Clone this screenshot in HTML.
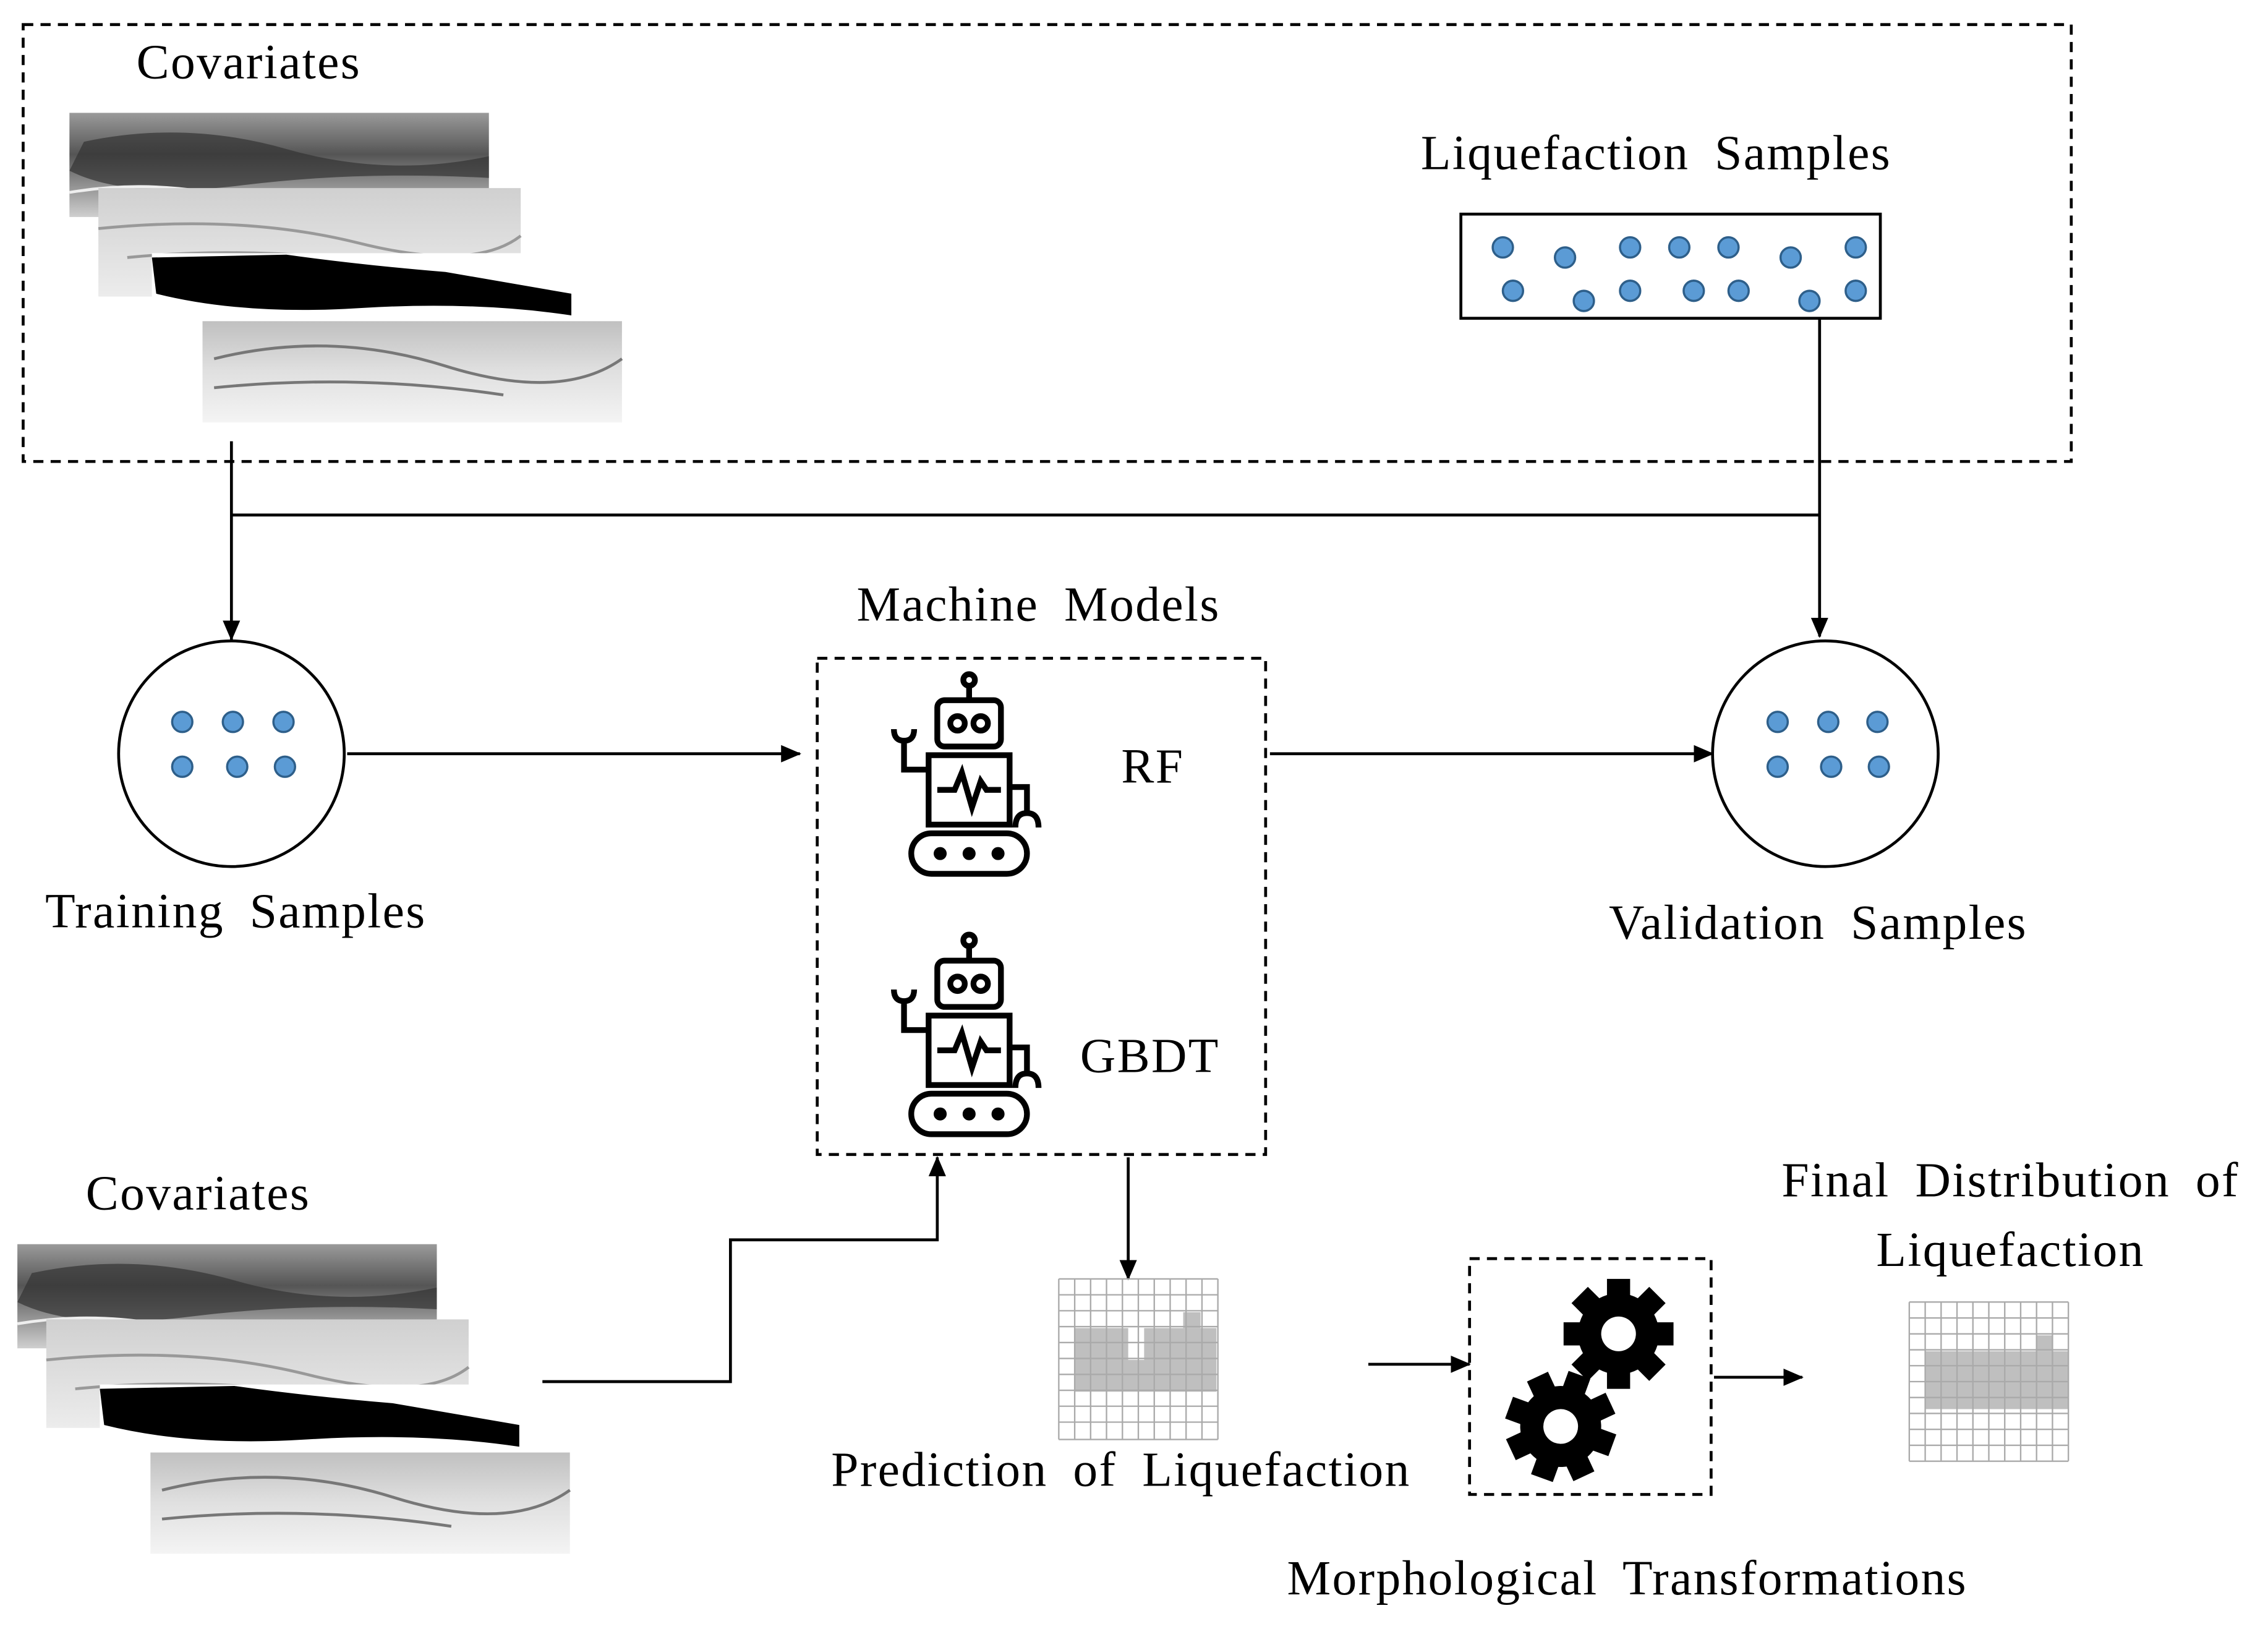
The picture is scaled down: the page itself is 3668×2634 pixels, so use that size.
<!DOCTYPE html>
<html><head><meta charset="utf-8"><style>html,body{margin:0;padding:0;background:#fff}svg{display:block}</style></head>
<body>
<svg width="3668" height="2634" viewBox="0 0 1568 1126" xmlns="http://www.w3.org/2000/svg" font-family="Liberation Serif, serif" font-size="34" letter-spacing="1" word-spacing="8">
<defs>
<marker id="a" markerWidth="14" markerHeight="14" refX="13" refY="7" orient="auto" markerUnits="userSpaceOnUse" viewBox="0 0 14 14"><path d="M0,1 L14,7 L0,13 z" fill="#000"/></marker>
<linearGradient id="g1" x1="0" y1="0" x2="0" y2="1"><stop offset="0" stop-color="#9a9a9a"/><stop offset="0.4" stop-color="#555"/><stop offset="1" stop-color="#cfcfcf"/></linearGradient>
<linearGradient id="g2" x1="0" y1="0" x2="0" y2="1"><stop offset="0" stop-color="#d0d0d0"/><stop offset="1" stop-color="#ececec"/></linearGradient>
<linearGradient id="g4" x1="0" y1="0" x2="0" y2="1"><stop offset="0" stop-color="#c0c0c0"/><stop offset="0.5" stop-color="#e0e0e0"/><stop offset="1" stop-color="#f4f4f4"/></linearGradient>
<g id="stack">
<rect x="0" y="0" width="290" height="72" fill="url(#g1)"/>
<path d="M10,20 Q80,5 150,25 T290,30 L290,45 Q200,40 120,50 T0,40z" fill="#333" opacity="0.7"/>
<path d="M0,55 Q60,45 120,60 T290,58" stroke="#eee" fill="none" stroke-width="2"/>
<rect x="20" y="52" width="292" height="75" fill="url(#g2)"/>
<path d="M20,80 Q120,70 200,90 T312,85 M40,100 Q140,90 260,110" stroke="#999" fill="none" stroke-width="2"/>
<rect x="57" y="97" width="290" height="70" fill="#fff"/>
<path d="M57,100 L150,98 Q200,105 260,110 L347,125 L347,140 Q280,130 200,135 T60,125z" fill="#000"/>
<rect x="92" y="144" width="290" height="70" fill="url(#g4)"/>
<path d="M100,170 Q180,150 260,175 T382,170 M100,190 Q200,180 300,195" stroke="#777" fill="none" stroke-width="2"/>
</g>
<g id="robot" fill="none" stroke="#000" stroke-width="4">
<circle cx="0" cy="-62" r="4"/><line x1="0" y1="-58" x2="0" y2="-48"/>
<rect x="-22" y="-48" width="44" height="32" rx="5"/>
<circle cx="-8" cy="-32" r="5"/><circle cx="8" cy="-32" r="5"/>
<rect x="-28" y="-10" width="56" height="48"/>
<path d="M-22,14 L-10,14 L-5,2 L2,26 L8,8 L12,14 L22,14"/>
<path d="M-28,0 L-45,0 L-45,-20 M-52,-28 Q-52,-20 -45,-20 Q-38,-20 -38,-28"/>
<path d="M28,12 L40,12 L40,30 M32,40 Q32,30 40,30 Q48,30 48,40"/>
<rect x="-40" y="44" width="80" height="28" rx="14"/>
<circle cx="-20" cy="58" r="2.5" fill="#000"/><circle cx="0" cy="58" r="2.5" fill="#000"/><circle cx="20" cy="58" r="2.5" fill="#000"/>
</g>
<g id="gear" fill="#000">
<circle r="28"/>
<g id="teeth"><rect x="-8" y="-38" width="16" height="16"/><rect x="-8" y="22" width="16" height="16"/><rect x="-38" y="-8" width="16" height="16"/><rect x="22" y="-8" width="16" height="16"/></g>
<use href="#teeth" transform="rotate(45)"/>
<circle r="12" fill="#fff"/>
</g>
</defs>

<rect x="16" y="17" width="1416" height="302" fill="none" stroke="#000" stroke-width="2" stroke-dasharray="7,5"/>
<text x="172" y="54" text-anchor="middle">Covariates</text>
<use href="#stack" transform="translate(48,78)"/>
<text x="1145" y="117" text-anchor="middle">Liquefaction Samples</text>
<rect x="1010" y="148" width="290" height="72" fill="#fff" stroke="#000" stroke-width="2"/>
<g fill="#5b9bd5" stroke="#2e5f8a" stroke-width="1.5">
<circle cx="1039" cy="171" r="7"/><circle cx="1082" cy="178" r="7"/><circle cx="1127" cy="171" r="7"/><circle cx="1161" cy="171" r="7"/><circle cx="1195" cy="171" r="7"/><circle cx="1238" cy="178" r="7"/><circle cx="1283" cy="171" r="7"/>
<circle cx="1046" cy="201" r="7"/><circle cx="1095" cy="208" r="7"/><circle cx="1127" cy="201" r="7"/><circle cx="1171" cy="201" r="7"/><circle cx="1202" cy="201" r="7"/><circle cx="1251" cy="208" r="7"/><circle cx="1283" cy="201" r="7"/>
</g>

<g stroke="#000" stroke-width="2" fill="none">
<line x1="160" y1="305" x2="160" y2="442" marker-end="url(#a)"/>
<line x1="160" y1="356" x2="1258" y2="356"/>
<line x1="1258" y1="220" x2="1258" y2="440" marker-end="url(#a)"/>
<circle cx="160" cy="521" r="78"/>
<circle cx="1262" cy="521" r="78"/>
<line x1="240" y1="521" x2="553" y2="521" marker-end="url(#a)"/>
<line x1="878" y1="521" x2="1184" y2="521" marker-end="url(#a)"/>
<polyline points="375,955 505,955 505,857 648,857 648,800" marker-end="url(#a)"/>
<line x1="780" y1="800" x2="780" y2="884" marker-end="url(#a)"/>
<line x1="946" y1="943" x2="1016" y2="943" marker-end="url(#a)"/>
<line x1="1185" y1="952" x2="1246" y2="952" marker-end="url(#a)"/>
</g>
<g fill="#5b9bd5" stroke="#2e5f8a" stroke-width="1.5">
<circle cx="126" cy="499" r="7"/><circle cx="161" cy="499" r="7"/><circle cx="196" cy="499" r="7"/>
<circle cx="126" cy="530" r="7"/><circle cx="164" cy="530" r="7"/><circle cx="197" cy="530" r="7"/>
<circle cx="1229" cy="499" r="7"/><circle cx="1264" cy="499" r="7"/><circle cx="1298" cy="499" r="7"/>
<circle cx="1229" cy="530" r="7"/><circle cx="1266" cy="530" r="7"/><circle cx="1299" cy="530" r="7"/>
</g>
<text x="163" y="641" text-anchor="middle">Training Samples</text>
<text x="1257" y="649" text-anchor="middle">Validation Samples</text>

<text x="718" y="429" text-anchor="middle">Machine Models</text>
<rect x="565" y="455" width="310" height="343" fill="none" stroke="#000" stroke-width="2" stroke-dasharray="7,5"/>
<use href="#robot" transform="translate(670,532)"/>
<use href="#robot" transform="translate(670,712)"/>
<text x="797" y="541" text-anchor="middle">RF</text>
<text x="795" y="741" text-anchor="middle">GBDT</text>

<text x="137" y="836" text-anchor="middle">Covariates</text>
<use href="#stack" transform="translate(12,860)"/>

<g>
<rect x="743" y="918" width="98" height="44" fill="#bfbfbf"/>
<rect x="780" y="918" width="11" height="22" fill="#fff"/>
<rect x="818" y="907" width="12" height="11" fill="#bfbfbf"/>
<rect x="1331" y="934" width="99" height="40" fill="#bfbfbf"/>
<rect x="1408" y="923" width="11" height="11" fill="#bfbfbf"/>
<g stroke="#aaa" stroke-width="1" fill="none">
<path d="M732,884h110M732,895h110M732,906h110M732,917h110M732,928h110M732,939h110M732,950h110M732,961h110M732,972h110M732,983h110M732,995h110M732,884v111M743,884v111M754,884v111M765,884v111M776,884v111M787,884v111M798,884v111M809,884v111M820,884v111M831,884v111M842,884v111"/>
<path d="M1320,900h110M1320,911h110M1320,922h110M1320,933h110M1320,944h110M1320,955h110M1320,966h110M1320,977h110M1320,988h110M1320,999h110M1320,1010h110M1320,900v110M1331,900v110M1342,900v110M1353,900v110M1364,900v110M1375,900v110M1386,900v110M1397,900v110M1408,900v110M1419,900v110M1430,900v110"/>
</g>
</g>
<text x="775" y="1027" text-anchor="middle">Prediction of Liquefaction</text>
<rect x="1016" y="870" width="167" height="163" fill="none" stroke="#000" stroke-width="2" stroke-dasharray="7,5"/>
<use href="#gear" transform="translate(1119,922)"/>
<use href="#gear" transform="translate(1079,986) rotate(20)"/>
<text x="1390" y="827" text-anchor="middle">Final Distribution of</text>
<text x="1390" y="875" text-anchor="middle">Liquefaction</text>
<text x="1125" y="1102" text-anchor="middle">Morphological Transformations</text>
</svg>
</body></html>
